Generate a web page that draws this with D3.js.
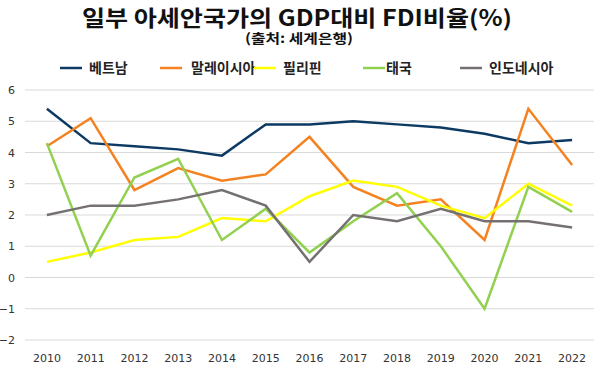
<!DOCTYPE html>
<html>
<head>
<meta charset="utf-8">
<script src="https://cdn.jsdelivr.net/npm/d3@7"></script>
<style>
  body { margin: 0; background: #fff; }
  .title { font-family: "Noto Sans CJK KR", sans-serif; font-weight: 700; fill: #111; }
  .legend-label { font-family: "Noto Sans CJK KR", sans-serif; font-weight: 700; font-size: 14px; fill: #222; }
  .tick text { font-family: "DejaVu Sans", sans-serif; font-size: 11px; fill: #333; }
</style>
</head>
<body>
<div id="wrapper"></div>
<script>
// data
const years = ["2010", "2011", "2012", "2013", "2014", "2015", "2016", "2017", "2018", "2019", "2020", "2021", "2022"]
const countries = ["베트남", "말레이시아", "필리핀", "태국", "인도네시아"]
const vietnam     = [5.4, 4.3, 4.2, 4.1, 3.9, 4.9, 4.9, 5.0, 4.9, 4.8, 4.6, 4.3, 4.4]
const malaysia    = [4.2, 5.1, 2.8, 3.5, 3.1, 3.3, 4.5, 2.9, 2.3, 2.5, 1.2, 5.4, 3.6]
const philippines = [0.5, 0.8, 1.2, 1.3, 1.9, 1.8, 2.6, 3.1, 2.9, 2.3, 1.9, 3.0, 2.3]
const thailand    = [4.3, 0.7, 3.2, 3.8, 1.2, 2.2, 0.8, 1.8, 2.7, 1.0, -1.0, 2.9, 2.1]
const indonesia   = [2.0, 2.3, 2.3, 2.5, 2.8, 2.3, 0.5, 2.0, 1.8, 2.2, 1.8, 1.8, 1.6]
const yTicks = [-2, -1, 0, 1, 2, 3, 4, 5, 6]

const colors = ["#0d3a63", "#f58220", "#ffff00", "#92d050", "#767171"]
const series = [vietnam, malaysia, philippines, thailand, indonesia]
  .map((values, i) => ({ name: countries[i], color: colors[i], values }))

// dimensions
const width = 600
const height = 377
const plot = { left: 25, right: 594, top: 90, bottom: 340 }

const svg = d3.select("#wrapper").append("svg")
    .attr("width", width)
    .attr("height", height)

// scales
const xScale = d3.scaleBand()
  .domain(years)
  .range([plot.left, plot.right])
const yScale = d3.scaleLinear()
  .domain([-2, 6])
  .range([plot.bottom, plot.top])
const xPos = year => xScale(year) + xScale.bandwidth() / 2

// grid
svg.append("g")
  .selectAll("line")
  .data(yTicks)
  .enter().append("line")
    .attr("x1", plot.left)
    .attr("x2", plot.right)
    .attr("y1", d => yScale(d))
    .attr("y2", d => yScale(d))
    .attr("stroke", "#d9d9d9")
    .attr("stroke-width", 1)

// axes (labels only)
const yAxis = svg.append("g")
    .attr("transform", `translate(${plot.left - 10}, 0)`)
    .call(d3.axisLeft(yScale).tickValues(yTicks).tickSize(0).tickPadding(0).tickFormat(d3.format("d")))
yAxis.select(".domain").remove()

const xAxis = svg.append("g")
    .attr("transform", `translate(0, ${plot.bottom + 10})`)
    .call(d3.axisBottom(xScale).tickSize(0).tickPadding(4))
xAxis.select(".domain").remove()

// lines
const lineGenerator = d3.line()
  .x((d, i) => xPos(years[i]))
  .y(d => yScale(d))

svg.append("g")
  .selectAll("path")
  .data(series)
  .enter().append("path")
    .attr("d", d => lineGenerator(d.values))
    .attr("fill", "none")
    .attr("stroke", d => d.color)
    .attr("stroke-width", 2.5)
    .attr("stroke-linejoin", "miter")

// title
svg.append("text")
    .attr("class", "title")
    .attr("x", 297)
    .attr("y", 26)
    .attr("text-anchor", "middle")
    .attr("textLength", 430)
    .attr("lengthAdjust", "spacingAndGlyphs")
    .style("font-size", "22px")
    .text("일부 아세안국가의 GDP대비 FDI비율(%)")
svg.append("text")
    .attr("class", "title")
    .attr("x", 299)
    .attr("y", 43)
    .attr("text-anchor", "middle")
    .attr("textLength", 108)
    .attr("lengthAdjust", "spacingAndGlyphs")
    .style("font-size", "13px")
    .text("(출처: 세계은행)")

// legend
const legendX = [60, 160, 254, 363, 460]
const legend = svg.append("g")
  .selectAll("g")
  .data(series)
  .enter().append("g")
    .attr("transform", (d, i) => `translate(${legendX[i]}, 68)`)
legend.append("line")
    .attr("x1", 0)
    .attr("x2", 22)
    .attr("stroke", d => d.color)
    .attr("stroke-width", 2.5)
legend.append("text")
    .attr("class", "legend-label")
    .attr("x", (d, i) => i == 3 ? 23 : (i == 1 ? 31 : 29))
    .attr("dy", "0.35em")
    .text(d => d.name)
</script>
</body>
</html>
